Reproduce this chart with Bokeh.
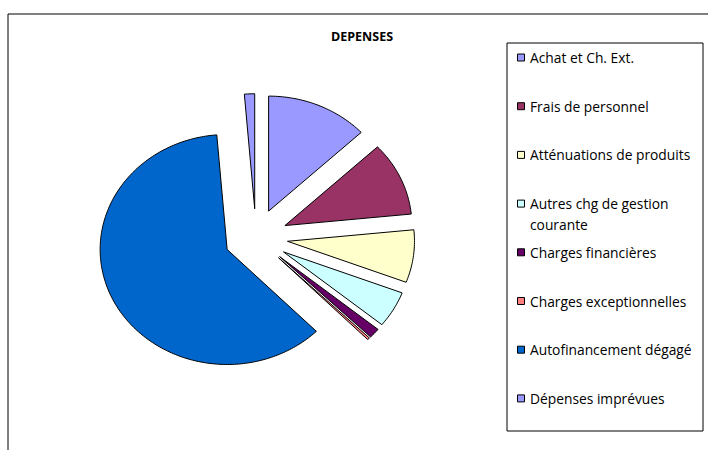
import numpy as np
from bokeh.plotting import figure
from bokeh.models import Range1d
from bokeh.core.properties import value
from bokeh.embed import file_html
from bokeh.resources import INLINE

# ---- data ----
categories = ["Achat et Ch. Ext.", "Frais de personnel", "Atténuations de produits",
              "Autres chg de gestion\ncourante", "Charges financières",
              "Charges exceptionnelles", "Autofinancement dégagé", "Dépenses imprévues"]
values = [13.0, 10.4, 7.4, 5.1, 1.4, 0.3, 61.1, 1.3]
colors = ["#9999FF", "#993366", "#FFFFCC", "#CCFFFF", "#660066", "#FF8080", "#0066CC", "#9999FF"]
title = "DEPENSES"

# ---- layout constants (pixels) ----
W, H = 708, 450
cx, cy = 255.5, 237.0      # pie centre
rx, ry = 127.0, 115.0      # pie radii (stretched horizontally)
explode = 0.25             # fraction of radius
FONT = "Open Sans"

p = figure(width=W, height=H, output_backend="svg", toolbar_location=None,
           x_range=Range1d(0, W), y_range=Range1d(H, 0),
           x_axis_location=None, y_axis_location=None, min_border=0)
p.grid.visible = False
p.outline_line_color = None
p.background_fill_color = "white"
p.border_fill_color = "white"

# outer chart border (extends past window)
p.line(x=[7.5, 7.5, W + 20], y=[H + 20, 13.5, 13.5], line_color="black", line_width=1)

# ---- pie slices ----
vals = np.array(values, dtype=float)
frac = vals / vals.sum()
ends = np.cumsum(frac) * 2 * np.pi
starts = ends - frac * 2 * np.pi
xs, ys = [], []
for a0, a1 in zip(starts, ends):
    mid = (a0 + a1) / 2
    ox = cx + explode * rx * np.sin(mid)
    oy = cy - explode * ry * np.cos(mid)
    n = max(3, int(np.degrees(a1 - a0)))
    t = np.linspace(a0, a1, n)
    px = np.concatenate([[ox], ox + rx * np.sin(t), [ox]])
    py = np.concatenate([[oy], oy - ry * np.cos(t), [oy]])
    xs.append(list(px))
    ys.append(list(py))
p.patches(xs=xs, ys=ys, fill_color=colors, line_color="black", line_width=1)

# ---- title ----
p.text(x=[361.5], y=[35.5], text=[title], text_font=value(FONT), text_font_size="12.5px",
       text_font_style="bold", text_align="center", text_baseline="middle", text_color="black")

# ---- legend ----
lx0, ly0, lx1, ly1 = 506.5, 42.5, 702.5, 430.5
p.quad(left=[lx0], right=[lx1], top=[ly0], bottom=[ly1], fill_color="white", line_color="black", line_width=1)
n = len(categories)
item_y = [57 + i * 48.7 for i in range(n)]
sw = 7
p.rect(x=[520.5] * n, y=item_y, width=sw, height=sw, fill_color=colors, line_color="black", line_width=1)
p.text(x=[529.5] * n, y=[yy - 9.5 for yy in item_y], text=categories, text_font=value(FONT),
       text_font_size="13.8px", text_align="left", text_baseline="top", text_color="black",
       text_line_height=1.1)

open("out.html", "w").write(file_html(p, INLINE))
